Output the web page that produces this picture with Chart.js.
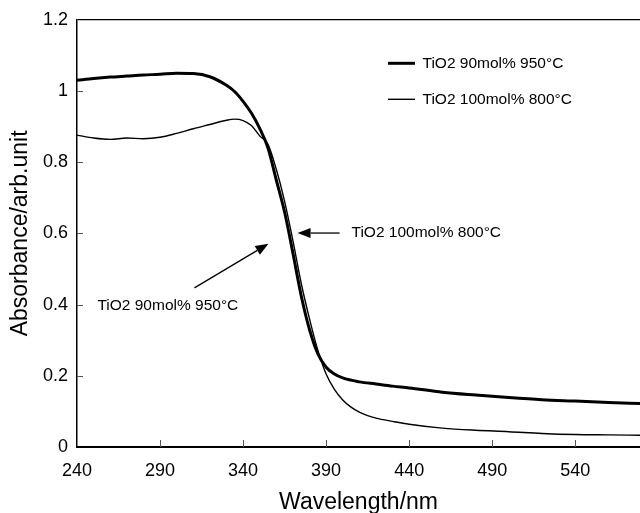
<!DOCTYPE html>
<html>
<head>
<meta charset="utf-8">
<script src="https://cdn.jsdelivr.net/npm/chart.js@4.4.1/dist/chart.umd.min.js"></script>
<style>
html,body{margin:0;padding:0;background:#fff;overflow:hidden;}
#wrap{width:640px;height:513px;position:relative;}
</style>
</head>
<body>
<div id="wrap"><canvas id="c" width="640" height="513"></canvas></div>
<script>
// Wavelength (nm) sample points
const wavelengthsA = [240,250,260,270,280,290,300,310,320,330,335,340,345,350,355,360,365,370,375,380,385,390,395,400,410,420,430,440,460,480,500,520,540,560,579];
// TiO2 90mol% 950°C (thick)
const absorbanceA = [1.030,1.035,1.039,1.042,1.045,1.047,1.050,1.049,1.040,1.016,0.998,0.971,0.938,0.895,0.840,0.750,0.660,0.545,0.425,0.330,0.262,0.224,0.205,0.194,0.183,0.177,0.171,0.166,0.154,0.146,0.139,0.133,0.129,0.125,0.122];
const wavelengthsB = [240,250,260,270,280,290,300,310,320,330,335,340,345,350,355,360,365,370,375,380,385,390,395,400,405,410,415,420,430,440,460,480,500,520,540,560,579];
// TiO2 100mol% 800°C (thin)
const absorbanceB = [0.876,0.868,0.864,0.868,0.866,0.870,0.881,0.894,0.906,0.918,0.921,0.917,0.903,0.874,0.850,0.780,0.690,0.580,0.460,0.360,0.272,0.205,0.162,0.132,0.112,0.098,0.088,0.081,0.072,0.064,0.053,0.047,0.043,0.038,0.035,0.034,0.033];

const seriesNames = ['TiO2 90mol% 950°C', 'TiO2 100mol% 800°C'];
const xTickValues = [240,290,340,390,440,490,540];
const yTickValues = [0,0.2,0.4,0.6,0.8,1,1.2];
const xTitle = 'Wavelength/nm';
const yTitle = 'Absorbance/arb.unit';

// annotation labels: [text x(nm), text y, arrow tail x, tail y, tip x, tip y]
const annotationTexts = ['TiO2 100mol% 800°C', 'TiO2 90mol% 950°C'];
const annotationAnchors = [
  [405.3, 0.601, 398.1, 0.601, 372.8, 0.601],
  [252.3, 0.397, 310.7, 0.447, 355.3, 0.571]
];

const toXY = (xs, ys) => xs.map((x, i) => ({x: x, y: ys[i]}));
const textFont = '15.5px "Liberation Sans", Arial, sans-serif';
const tickFont = {family: '"Liberation Sans", Arial, sans-serif', size: 18};

const annotPlugin = {
  id: 'annot',
  afterDraw(chart) {
    const ctx = chart.ctx;
    const xs = chart.scales.x, ys = chart.scales.y;
    const ca = chart.chartArea;
    ctx.save();
    // inward tick marks
    ctx.strokeStyle = '#555';
    ctx.lineWidth = 1;
    yTickValues.forEach(v => {
      if (v === 0 || v === 1.2) return;
      const py = Math.round(ys.getPixelForValue(v)) + 0.5;
      ctx.beginPath(); ctx.moveTo(ca.left, py); ctx.lineTo(ca.left + 6, py); ctx.stroke();
    });
    xTickValues.forEach(v => {
      if (v === 240) return;
      const px = Math.round(xs.getPixelForValue(v)) + 0.5;
      ctx.beginPath(); ctx.moveTo(px, ca.bottom); ctx.lineTo(px, ca.bottom - 7); ctx.stroke();
    });
    // legend
    ctx.fillStyle = '#000';
    ctx.strokeStyle = '#000';
    ctx.font = textFont;
    ctx.textBaseline = 'middle';
    ctx.textAlign = 'left';
    chart.data.datasets.forEach((ds, i) => {
      const ly = ca.top + 43.5 + i * 36;
      ctx.lineWidth = ds.borderWidth;
      ctx.beginPath(); ctx.moveTo(ca.left + 311, ly); ctx.lineTo(ca.left + 338, ly); ctx.stroke();
      ctx.fillText(ds.label, ca.left + 345.5, ly);
    });
    // annotations with arrows
    annotationAnchors.forEach((a, i) => {
      const tx = xs.getPixelForValue(a[0]), ty = ys.getPixelForValue(a[1]);
      ctx.fillText(annotationTexts[i], tx, ty);
      const x1 = xs.getPixelForValue(a[2]), y1 = ys.getPixelForValue(a[3]);
      const x2 = xs.getPixelForValue(a[4]), y2 = ys.getPixelForValue(a[5]);
      const ang = Math.atan2(y2 - y1, x2 - x1);
      const hl = 13, hw = 5;
      const bx = x2 - hl * Math.cos(ang), by = y2 - hl * Math.sin(ang);
      ctx.lineWidth = 1.3;
      ctx.beginPath(); ctx.moveTo(x1, y1); ctx.lineTo(bx, by); ctx.stroke();
      ctx.beginPath();
      ctx.moveTo(x2, y2);
      ctx.lineTo(bx + hw * Math.sin(ang), by - hw * Math.cos(ang));
      ctx.lineTo(bx - hw * Math.sin(ang), by + hw * Math.cos(ang));
      ctx.closePath(); ctx.fill();
    });
    ctx.restore();
  }
};

new Chart(document.getElementById('c'), {
  type: 'line',
  data: {
    datasets: [
      {label: seriesNames[0], data: toXY(wavelengthsA, absorbanceA), borderColor: '#000', borderWidth: 3, pointRadius: 0, cubicInterpolationMode: 'monotone', fill: false},
      {label: seriesNames[1], data: toXY(wavelengthsB, absorbanceB), borderColor: '#000', borderWidth: 1.4, pointRadius: 0, cubicInterpolationMode: 'monotone', fill: false}
    ]
  },
  options: {
    responsive: false,
    animation: false,
    layout: {padding: {top: 18, right: 0, left: 0, bottom: 0}},
    plugins: {legend: {display: false}, tooltip: {enabled: false}},
    scales: {
      x: {
        type: 'linear', min: 240, max: 579,
        afterBuildTicks: s => { s.ticks = xTickValues.map(v => ({value: v})); },
        afterFit: s => { s.height = 66; },
        grid: {display: true, color: 'transparent', drawTicks: false},
        border: {display: true, color: '#000', width: 2},
        ticks: {color: '#000', padding: 13, maxRotation: 0, font: tickFont, callback: v => String(v)},
        title: {display: true, text: xTitle, color: '#000', padding: {top: 0, bottom: 0}, font: {family: '"Liberation Sans", Arial, sans-serif', size: 23, lineHeight: 0.87}}
      },
      y: {
        type: 'linear', min: 0, max: 1.2,
        afterBuildTicks: s => { s.ticks = yTickValues.map(v => ({value: v})); },
        afterFit: s => { s.width = 77; },
        grid: {display: true, drawTicks: false, color: c => (c.tick && c.tick.value === 1.2) ? '#000' : 'transparent', lineWidth: 1.2},
        border: {display: true, color: '#000', width: 1.5},
        ticks: {color: '#000', padding: 9, font: tickFont, callback: v => String(+Number(v).toFixed(1))},
        title: {display: true, text: yTitle, color: '#000', padding: {top: 7, bottom: 0}, font: {family: '"Liberation Sans", Arial, sans-serif', size: 23}}
      }
    }
  },
  plugins: [annotPlugin]
});
</script>
</body>
</html>
